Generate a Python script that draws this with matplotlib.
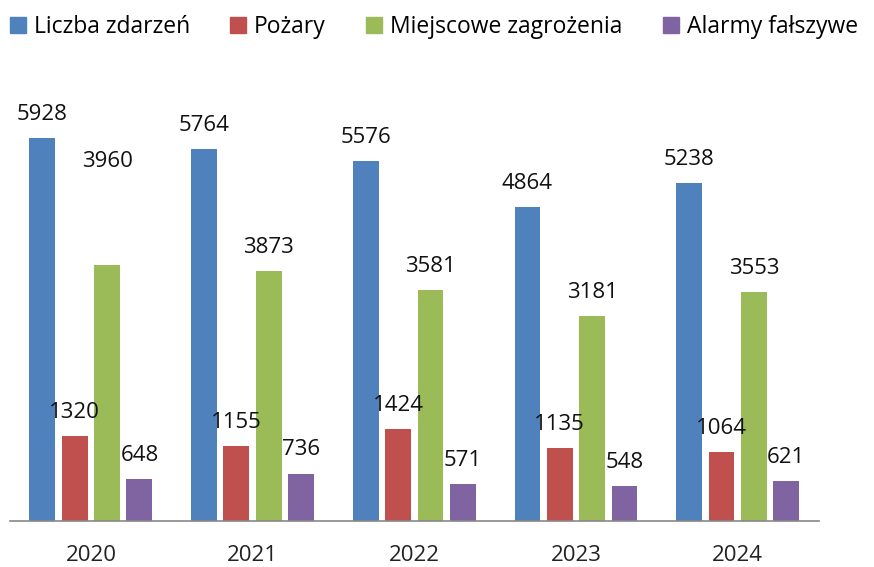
import matplotlib.pyplot as plt
import numpy as np
from matplotlib.patches import Patch

plt.rcParams['font.family'] = ['Open Sans', 'DejaVu Sans']

years = ['2020', '2021', '2022', '2023', '2024']
liczba_zdarzen = [5928, 5764, 5576, 4864, 5238]
pozary = [1320, 1155, 1424, 1135, 1064]
miejscowe = [3960, 3873, 3581, 3181, 3553]
alarmy = [648, 736, 571, 548, 621]

series_names = ['Liczba zdarzeń', 'Pożary', 'Miejscowe zagrożenia', 'Alarmy fałszywe']
colors = ['#4F81BD', '#C0504D', '#9BBB59', '#8064A2']

fig = plt.figure(figsize=(8.74, 5.67), dpi=100)
ax = fig.add_axes([0.0115, 0.0811, 0.925, 0.797])

x = np.arange(len(years))
step = 0.2
width = 0.16
all_series = [liczba_zdarzen, pozary, miejscowe, alarmy]
for i, (vals, c) in enumerate(zip(all_series, colors)):
    pos = x + (i - 1.5) * step
    ax.bar(pos, vals, width=width, color=c)
    for j, (p, v) in enumerate(zip(pos, vals)):
        # the first green label sits much higher in the original
        extra = 58 if (i == 2 and j == 0) else 0
        ax.annotate(str(v), (p, v), xytext=(0, 17 + extra), textcoords='offset points',
                    ha='center', va='center', fontsize=16, color='#111111')

ax.set_xlim(-0.5, len(years) - 0.5)
ax.set_ylim(0, 7000)
ax.set_xticks(x)
ax.set_xticklabels(years, fontsize=16, color='#222222')
ax.tick_params(axis='x', length=0, pad=17)
ax.set_yticks([])
for s in ['top', 'right', 'left']:
    ax.spines[s].set_visible(False)
ax.spines['bottom'].set_color('#888888')
ax.spines['bottom'].set_linewidth(1.2)

handles = [Patch(color=c) for c in colors]
fig.legend(handles, series_names, loc='upper left', bbox_to_anchor=(-0.006, 1.0), ncol=4,
           frameon=False, fontsize=16.5, handlelength=0.7, handleheight=0.7,
           handletextpad=0.35, columnspacing=1.75, borderaxespad=0.25)

fig.savefig('out.png', dpi=100)
